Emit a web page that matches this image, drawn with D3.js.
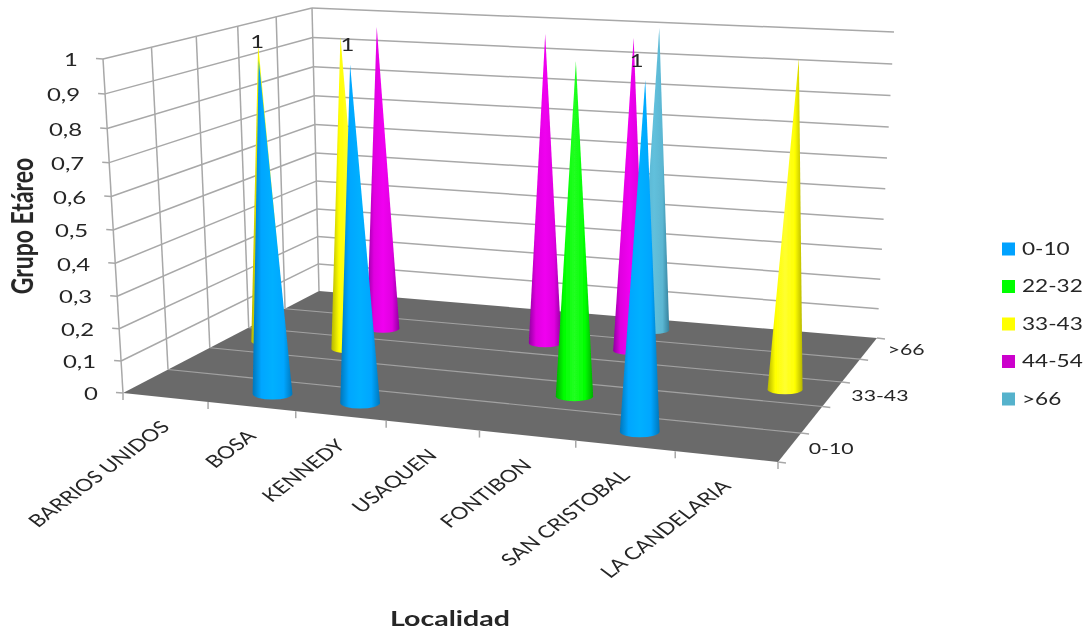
<!DOCTYPE html>
<html><head><meta charset="utf-8">
<script src="https://cdnjs.cloudflare.com/ajax/libs/d3/7.8.5/d3.min.js"></script>
<style>html,body{margin:0;padding:0;background:#fff}svg{display:block}text{font-family:Lato,"Open Sans",sans-serif;fill:#262626}</style>
</head><body><svg id="c" width="1088" height="633"></svg>
<script>
const categories=["BARRIOS UNIDOS","BOSA","KENNEDY","USAQUEN","FONTIBON","SAN CRISTOBAL","LA CANDELARIA"];
const seriesNames=["0-10","22-32","33-43","44-54",">66"];
const depthLabels=["0-10","","33-43","",">66"];
const values0to10=[null,1,1,null,null,1,null];
const values22to32=[null,null,null,null,1,null,null];
const values33to43=[0.965,1,null,null,null,null,1];
const values44to54=[null,1,null,1,1,null,null];
const valuesOver66=[null,null,null,null,1,null,null];
const seriesValues=[values0to10,values22to32,values33to43,values44to54,valuesOver66];
const valueTicks=[0,.1,.2,.3,.4,.5,.6,.7,.8,.9,1];
const labelled=[[2,0],[2,1],[3,4]];
const colors=["#00a6ff","#00ff00","#ffff00","#e000e0","#5ab6d2"];
const darks=["#0076bb","#00ae00","#b4b400","#8f009f","#35809b"];
const lights=["#00b0ff","#20ff20","#ffff30","#f000f0","#62c0dc"];
const legendColors=["#00a2ff","#00ff00","#ffff00","#cc00cc","#55b2cc"];

const floorQuad=[[123,393],[778,462],[877,338],[319,291]];
const topQuad=[[103,59],[794,96],[894,32],[312,8]];
const XS=1.33;

function homography(q){
  const [[x0,y0],[x1,y1],[x2,y2],[x3,y3]]=q;
  const dx1=x1-x2,dx2=x3-x2,sx=x0-x1+x2-x3,dy1=y1-y2,dy2=y3-y2,sy=y0-y1+y2-y3;
  const d=dx1*dy2-dx2*dy1,g=(sx*dy2-dx2*sy)/d,h=(dx1*sy-sx*dy1)/d;
  const a=x1-x0+g*x1,b=x3-x0+h*x3,e=y1-y0+g*y1,f=y3-y0+h*y3;
  return (u,v)=>{const w=g*u+h*v+1;return [(a*u+b*v+x0)/w,(e*u+f*v+y0)/w];};
}
const floorH=homography(floorQuad),topH=homography(topQuad);
const xBand=d3.scaleBand().domain(d3.range(categories.length)).range([0,1]);
const zBand=d3.scaleBand().domain(d3.range(seriesNames.length)).range([0,1]);
const yScale=d3.scaleLinear().domain([0,1]).range([0,1]);
const radiusScale=d3.scaleLinear().domain([0,1]).range([20.5,14.5]);
// vertical foreshortening of the 3D box
function P(u,v,val){const a=floorH(u,v),b=topH(u,v),h=yScale(val),t=h/(1+.05*(1-h));return [a[0]+(b[0]-a[0])*t,a[1]+(b[1]-a[1])*t];}

const svg=d3.select("#c");
const defs=svg.append("defs");
defs.append("filter").attr("id","soft")
  .attr("filterUnits","userSpaceOnUse").attr("primitiveUnits","userSpaceOnUse")
  .attr("x",0).attr("y",0).attr("width",1088).attr("height",633)
  .append("feGaussianBlur").attr("stdDeviation",.45);
colors.forEach((c,i)=>{
  const g=defs.append("linearGradient").attr("id","g"+i).attr("x1",0).attr("x2",1).attr("y1",0).attr("y2",0);
  [[0,darks[i]],[.22,c],[.5,lights[i]],[.78,c],[1,darks[i]]].forEach(s=>g.append("stop").attr("offset",s[0]).attr("stop-color",s[1]));
});
const root=svg.append("g").attr("filter","url(#soft)");
root.append("rect").attr("width",1088).attr("height",633).attr("fill","#fff");
const line=d3.line();
const GRID="#a8a8a8";

// floor
root.append("path").attr("d",line(floorQuad)+"Z").attr("fill","#6b6b6b");
root.append("g").selectAll("path").data(d3.range(1,seriesNames.length)).join("path")
  .attr("d",k=>line([floorH(0,k/seriesNames.length),floorH(1,k/seriesNames.length)]))
  .attr("stroke","#a2a2a2").attr("stroke-width",1.1).attr("fill","none");
// back wall and left wall grid
const grid=root.append("g").attr("stroke",GRID).attr("stroke-width",1.5).attr("fill","none");
grid.selectAll(".b").data(valueTicks.slice(1)).join("path").attr("class","b").attr("d",h=>line([P(0,1,h),P(1,1,h)]));
grid.selectAll(".l").data(valueTicks.slice(1)).join("path").attr("class","l").attr("d",h=>line([P(0,0,h),P(0,1,h)]));
grid.selectAll(".v").data(d3.range(0,seriesNames.length+1)).join("path").attr("class","v")
  .attr("d",k=>line([P(0,k/seriesNames.length,0),P(0,k/seriesNames.length,1)]));
// axis ticks
grid.selectAll(".ty").data(valueTicks).join("path").attr("class","ty").attr("d",h=>{const p=P(0,0,h);return line([[p[0]-7,p[1]-.5],p]);});
grid.selectAll(".tx").data(d3.range(0,categories.length+1)).join("path").attr("class","tx").attr("d",i=>{const p=floorH(i/categories.length,0);return line([p,[p[0],p[1]+7]]);});
grid.selectAll(".tz").data(d3.range(0,seriesNames.length+1)).join("path").attr("class","tz").attr("d",k=>{const p=floorH(1,k/seriesNames.length);return line([p,[p[0]+8,p[1]+1]]);});

// cones
const cones=[];
seriesValues.forEach((arr,s)=>arr.forEach((v,c)=>{if(v!=null)cones.push({s,c,v});}));
cones.sort((a,b)=>b.s-a.s||a.c-b.c);
root.append("g").selectAll("path").data(cones).join("path")
 .attr("d",d=>{
   const u=xBand(d.c)+xBand.bandwidth()/2,w=zBand(d.s)+zBand.bandwidth()/2;
   const base=P(u,w,0),tip=P(u,w,d.v);
   const rx=radiusScale(w),ry=rx*.27;
   return `M${base[0]-rx},${base[1]}L${tip[0]},${tip[1]}L${base[0]+rx},${base[1]}A${rx},${ry} 0 0 1 ${base[0]-rx},${base[1]}Z`;
 })
 .attr("fill",d=>`url(#g${d.s})`);

function txt(sel,x,y,str,size,o={}){
  const rot=o.rot||0;
  return sel.append("text").attr("transform",`translate(${x},${y}) scale(${XS},1)`+(rot?` rotate(${rot})`:""))
    .attr("font-size",size).attr("font-weight",o.w||400).attr("text-anchor",o.a||"start").attr("dy",o.dy||"0.35em").text(str);
}
const fmt=d=>String(d).replace(".",",");
const lab=root.append("g");
valueTicks.forEach(h=>{const p=P(0,0,h);txt(lab,p[0]-25,p[1]+1,fmt(h),18,{a:"end"});});
categories.forEach((c,i)=>{
  const p=floorH(xBand(i)+xBand.bandwidth()/2,0);
  txt(lab,p[0]+1,p[1]+27,c,17,{a:"end",rot:-45,dy:"0.3em"});
});
depthLabels.forEach((t,k)=>{
  if(!t)return;
  const p=floorH(1,(k+.5)/depthLabels.length);
  txt(lab,p[0]+19,p[1]+1,t,16,{a:"start"});
});
labelled.forEach(([s,c],i)=>{
  const off=[[-1,-3],[7,8],[3,23]][i];
  const u=xBand(c)+xBand.bandwidth()/2,w=zBand(s)+zBand.bandwidth()/2,v=seriesValues[s][c],t=P(u,w,v);
  txt(lab,t[0]+off[0],t[1]+off[1],String(Math.round(v)),18,{a:"middle"});
});
txt(lab,22,226,"Grupo Etáreo",23,{a:"middle",w:700,rot:-90});
txt(lab,450,618,"Localidad",21.5,{a:"middle",w:700});
const lg=root.append("g");
seriesNames.forEach((n,i)=>{
  const y=d3.scaleLinear().domain([0,4]).range([249,399])(i);
  lg.append("rect").attr("x",1002).attr("y",y-6.5).attr("width",13).attr("height",13).attr("fill",legendColors[i]);
  txt(lg,1022,y,n,17);
});
</script></body></html>
